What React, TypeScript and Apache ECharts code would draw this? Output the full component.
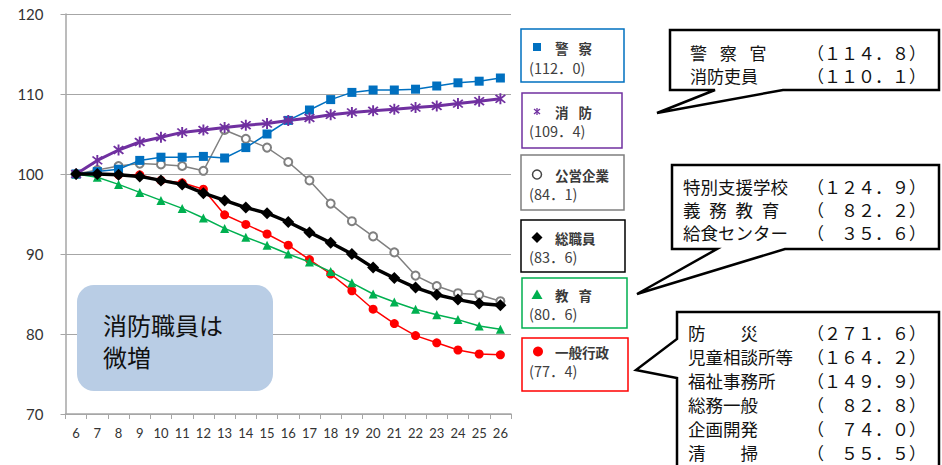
import React, { useEffect, useRef } from "react";
import * as echarts from "echarts";

const categories = ["6","7","8","9","10","11","12","13","14","15","16","17","18","19","20","21","22","23","24","25","26"];
const policeValues = [100, 100.3, 100.6, 101.7, 102.1, 102.1, 102.2, 102.0, 103.3, 105.0, 106.7, 108.0, 109.3, 110.2, 110.5, 110.5, 110.6, 111.0, 111.4, 111.6, 112.0];
const fireValues = [100, 101.7, 103.0, 104.0, 104.6, 105.2, 105.5, 105.8, 106.1, 106.3, 106.7, 107.0, 107.4, 107.7, 107.9, 108.1, 108.3, 108.5, 108.8, 109.1, 109.4];
const publicEntValues = [100, 100.5, 101.0, 101.3, 101.2, 101.0, 100.4, 105.5, 104.4, 103.3, 101.5, 99.2, 96.3, 94.1, 92.2, 90.2, 87.3, 86.0, 85.1, 84.9, 84.1];
const totalValues = [100, 100, 99.9, 99.7, 99.2, 98.7, 97.6, 96.7, 95.8, 95.1, 94.0, 92.7, 91.4, 90.0, 88.3, 87.0, 85.8, 84.9, 84.3, 83.8, 83.6];
const educationValues = [100, 99.6, 98.7, 97.7, 96.7, 95.7, 94.5, 93.2, 92.1, 91.1, 90.0, 89.0, 87.8, 86.4, 85.0, 84.0, 83.1, 82.4, 81.8, 81.0, 80.6];
const generalValues = [100, 100, 99.9, 99.9, 99.2, 98.9, 98.1, 94.9, 93.7, 92.5, 91.1, 89.3, 87.5, 85.4, 83.1, 81.3, 79.8, 78.9, 78.0, 77.5, 77.4];

const legendNames = ["警\u2002\u2005察", "消\u2002\u2005防", "公営企業", "総職員", "教\u2002\u2005育", "一般行政"];
const legendValues = ["(112．0)", "(109．4)", "(84．1)", "(83．6)", "(80．6)", "(77．4)"];

const callout1Labels = ["警\u2002\u2005察\u2002\u2005官", "消防吏員"];
const callout1Values = ["（１１４．８）", "（１１０．１）"];
const callout2Labels = ["特別支援学校", "義\u2002務\u2002教\u2002育", "給食センター"];
const callout2Values = ["（１２４．９）", "（　８２．２）", "（　３５．６）"];
const callout3Labels = ["防　　災", "児童相談所等", "福祉事務所", "総務一般", "企画開発", "清　　掃"];
const callout3Values = ["（２７１．６）", "（１６４．２）", "（１４９．９）", "（　８２．８）", "（　７４．０）", "（　５５．５）"];
const noteLines = ["消防職員は", "微増"];

const JP = "'Noto Sans CJK JP', 'Noto Sans', sans-serif";
const AX = "Lato, 'Open Sans', sans-serif";

const ASTERISK =
  "path://M-0.7,-5 L0.7,-5 L0.7,5 L-0.7,5 Z " +
  "M-3.04,-4.04 L4.04,3.04 L3.04,4.04 L-4.04,-3.04 Z " +
  "M-3.04,4.04 L-4.04,3.04 L3.04,-4.04 L4.04,-3.04 Z";

function txt(x: number, y: number, text: string, size: number, opts: any = {}) {
  return {
    type: "text",
    x,
    y,
    z: 110,
    style: {
      text,
      fontSize: size,
      lineHeight: size,
      fontFamily: JP,
      fontWeight: opts.weight || "normal",
      fill: opts.color || "#111",
      align: opts.align || "left",
      textAlign: opts.align || "left",
      verticalAlign: "middle",
      textVerticalAlign: "middle",
    },
  };
}

export default function App() {
  const ref = useRef<HTMLDivElement>(null);
  useEffect(() => {
    if (!ref.current) return;
    document.body.style.margin = "0";
    const chart = echarts.init(ref.current, undefined, { renderer: "svg" });

    const legendColors = ["#0070C0", "#7030A0", "#7F7F7F", "#000000", "#00B050", "#FF0000"];
    const legendBoxes = [
      [521, 29, 103, 53],
      [522, 93, 100, 55],
      [521, 155, 103, 55],
      [521, 220, 104, 52],
      [522, 278, 105, 50],
      [522, 338, 106, 53],
    ];
    const nameY = [47.5, 111.5, 174.5, 237.5, 294.5, 351.5];
    const valY = [67, 130.5, 193.5, 256.5, 313.5, 370.5];

    const elements: any[] = [];
    legendBoxes.forEach((b, i) => {
      elements.push({
        type: "rect",
        z: 100,
        shape: { x: b[0], y: b[1], width: b[2], height: b[3] },
        style: { fill: "#fff", stroke: legendColors[i], lineWidth: 1.5 },
      });
      elements.push(txt(555, nameY[i], legendNames[i], 13.5, { weight: "bold", color: "#3a3a3a" }));
      elements.push(txt(529, valY[i], legendValues[i], 14.5, { color: "#404040" }));
    });
    // legend markers
    const mx = 537;
    elements.push({ type: "rect", z: 110, shape: { x: mx - 4, y: nameY[0] - 4.5, width: 8, height: 8 }, style: { fill: "#0070C0" } });
    [[0, -3.5, 0, 3.5], [-3, -2.5, 3, 2.5], [-3, 2.5, 3, -2.5]].forEach((l) => {
      elements.push({ type: "line", z: 110, shape: { x1: mx + l[0], y1: nameY[1] + l[1], x2: mx + l[2], y2: nameY[1] + l[3] }, style: { stroke: "#7030A0", lineWidth: 1.3 } });
    });
    elements.push({ type: "circle", z: 110, shape: { cx: mx, cy: nameY[2], r: 4.5 }, style: { fill: "none", stroke: "#444", lineWidth: 1.5 } });
    elements.push({ type: "polygon", z: 110, shape: { points: [[mx, nameY[3] - 5.5], [mx + 5.5, nameY[3]], [mx, nameY[3] + 5.5], [mx - 5.5, nameY[3]]] }, style: { fill: "#000" } });
    elements.push({ type: "polygon", z: 110, shape: { points: [[mx, nameY[4] - 5], [mx + 5.5, nameY[4] + 4.5], [mx - 5.5, nameY[4] + 4.5]] }, style: { fill: "#00B050" } });
    elements.push({ type: "circle", z: 110, shape: { cx: mx + 1, cy: nameY[5], r: 5 }, style: { fill: "#FF0000" } });

    // callouts
    const calloutStyle = { fill: "#fff", stroke: "#000", lineWidth: 2.5 };
    elements.push({
      type: "polygon", z: 100,
      shape: { points: [[670, 30], [939, 30], [939, 90], [783, 90], [657, 113], [715, 90], [670, 90]] },
      style: calloutStyle,
    });
    elements.push({
      type: "polygon", z: 100,
      shape: { points: [[672, 165], [939, 165], [939, 249], [785, 249], [637, 294], [717, 249], [672, 249]] },
      style: calloutStyle,
    });
    elements.push({
      type: "polygon", z: 100,
      shape: { points: [[677, 312], [939, 312], [939, 475], [677, 475], [677, 378], [636, 370], [677, 339]] },
      style: calloutStyle,
    });
    const FS = 17;
    const c1y = [52, 75];
    callout1Labels.forEach((t, i) => {
      elements.push(txt(690, c1y[i], t, FS));
      elements.push(txt(926, c1y[i], callout1Values[i], FS, { align: "right" }));
    });
    const c2y = [186, 209, 232];
    callout2Labels.forEach((t, i) => {
      elements.push(txt(683, c2y[i], t, 17.5));
      elements.push(txt(926, c2y[i], callout2Values[i], FS, { align: "right" }));
    });
    const c3y = [332, 356, 380, 404, 428, 452];
    callout3Labels.forEach((t, i) => {
      elements.push(txt(688, c3y[i], t, 17.5));
      elements.push(txt(926, c3y[i], callout3Values[i], FS, { align: "right" }));
    });

    // note box
    elements.push({
      type: "rect", z: 100,
      shape: { x: 77, y: 285, width: 196, height: 106, r: 17 },
      style: { fill: "#B9CDE5" },
    });
    elements.push(txt(103, 324, noteLines[0], 24));
    elements.push(txt(103, 356, noteLines[1], 24));

    const lineSeries = (name: string, data: number[], color: string, width: number, symbol: string, size: number, z: number) => ({
      name,
      type: "line",
      data,
      symbol,
      symbolSize: size,
      showSymbol: true,
      lineStyle: { color, width },
      itemStyle: { color },
      z,
      emphasis: { disabled: true },
    });

    chart.setOption({
      animation: false,
      backgroundColor: "#fff",
      grid: { left: 65.5, right: 431, top: 14, bottom: 51, containLabel: false },
      tooltip: { show: false },
      xAxis: {
        type: "category",
        data: categories,
        boundaryGap: true,
        axisLine: { lineStyle: { color: "#A6A6A6", width: 1.5 } },
        axisTick: { show: true, length: 5, alignWithLabel: false, interval: 0, lineStyle: { color: "#A6A6A6" } },
        axisLabel: { interval: 0, fontSize: 13, color: "#333", fontFamily: AX, margin: 12 },
      },
      yAxis: {
        type: "value",
        min: 70,
        max: 120,
        interval: 10,
        axisLine: { show: true, lineStyle: { color: "#A6A6A6", width: 1.5 } },
        axisTick: { show: true, length: 5, lineStyle: { color: "#A6A6A6" } },
        axisLabel: { fontSize: 15, color: "#333", fontFamily: AX, margin: 22 },
        splitLine: { lineStyle: { color: "#A6A6A6", width: 1.2 } },
      },
      graphic: { elements },
      series: [
        lineSeries("一般行政", generalValues, "#FF0000", 1.5, "circle", 9, 2),
        lineSeries("教育", educationValues, "#00B050", 1.5, "triangle", 9, 3),
        lineSeries("公営企業", publicEntValues, "#808080", 1.5, "emptyCircle", 8, 4),
        lineSeries("警察", policeValues, "#0070C0", 1.5, "rect", 9, 5),
        lineSeries("消防", fireValues, "#7030A0", 3, ASTERISK, 11, 6),
        lineSeries("総職員", totalValues, "#000000", 3.5, "diamond", 12, 7),
      ],
    });

    return () => chart.dispose();
  }, []);

  return (
    <div
      ref={ref}
      style={{ width: 942, height: 465, background: "#fff" }}
    />
  );
}
